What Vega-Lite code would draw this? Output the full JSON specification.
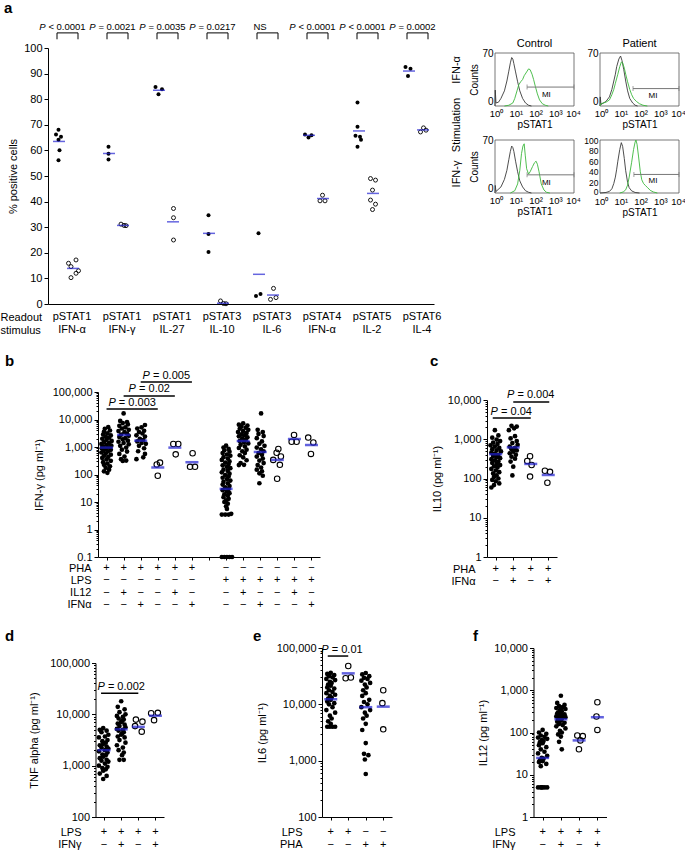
{
"$schema":"https://vega.github.io/schema/vega-lite/v6.json",
"background":"white",
"width":685,"height":852,"autosize":"none",
"padding":0,
"config":{
 "view":{"stroke":null},
 "font":"Liberation Sans",
 "axis":{"domainColor":"#000","tickColor":"#000","labelColor":"#000","titleColor":"#000","labelFont":"Liberation Sans","titleFont":"Liberation Sans","titleFontWeight":"normal","labelFontSize":11,"titleFontSize":11,"grid":false,"domainWidth":1,"tickWidth":1,"labelFlush":false},
 "text":{"font":"Liberation Sans","fontSize":11,"color":"#000"}
},
"resolve":{"scale":{"x":"independent","y":"independent"},"axis":{"x":"independent","y":"independent"}},
"datasets":{
"aPts":[
{"s":"c","x":-0.15,"v":68.1},{"s":"c","x":-0.2,"v":66.2},{"s":"c","x":-0.1,"v":65.3},{"s":"c","x":-0.15,"v":64.2},{"s":"c","x":-0.13,"v":60.1},{"s":"c","x":-0.15,"v":56.2},
{"s":"p","x":0.2,"v":17.2},{"s":"p","x":0.05,"v":15.9},{"s":"p","x":0.1,"v":14.6},{"s":"p","x":0.25,"v":13.0},{"s":"p","x":0.2,"v":12.0},{"s":"p","x":0.1,"v":10.3},
{"s":"c","x":0.85,"v":61.4},{"s":"c","x":0.85,"v":58.7},{"s":"c","x":0.85,"v":56.4},
{"s":"p","x":1.1,"v":31.2},{"s":"p","x":1.16,"v":30.7},{"s":"p","x":1.2,"v":30.6},
{"s":"c","x":1.79,"v":84.8},{"s":"c","x":1.92,"v":83.9},{"s":"c","x":1.85,"v":81.9},
{"s":"p","x":2.15,"v":37.3},{"s":"p","x":2.15,"v":33.7},{"s":"p","x":2.15,"v":25.0},
{"s":"c","x":2.85,"v":34.7},{"s":"c","x":2.85,"v":27.3},{"s":"c","x":2.85,"v":20.3},
{"s":"p","x":3.09,"v":1.2},{"s":"p","x":3.15,"v":0.2},{"s":"p","x":3.2,"v":0.1},
{"s":"c","x":3.85,"v":27.6},{"s":"c","x":3.8,"v":3.1},{"s":"c","x":3.89,"v":3.9},
{"s":"p","x":4.15,"v":6.1},{"s":"p","x":4.09,"v":1.8},{"s":"p","x":4.2,"v":2.5},
{"s":"c","x":4.78,"v":66.2},{"s":"c","x":4.91,"v":65.9},{"s":"c","x":4.85,"v":65.0},
{"s":"p","x":5.13,"v":42.5},{"s":"p","x":5.08,"v":40.3},{"s":"p","x":5.18,"v":40.3},
{"s":"c","x":5.83,"v":78.7},{"s":"c","x":5.83,"v":69.2},{"s":"c","x":5.79,"v":65.7},{"s":"c","x":5.88,"v":65.3},{"s":"c","x":5.9,"v":64.2},{"s":"c","x":5.83,"v":61.4},
{"s":"p","x":6.09,"v":49.0},{"s":"p","x":6.19,"v":48.4},{"s":"p","x":6.13,"v":44.5},{"s":"p","x":6.09,"v":40.6},{"s":"p","x":6.19,"v":39.0},{"s":"p","x":6.13,"v":36.9},
{"s":"c","x":6.79,"v":92.6},{"s":"c","x":6.89,"v":91.9},{"s":"c","x":6.84,"v":89.1},
{"s":"p","x":7.09,"v":67.2},{"s":"p","x":7.15,"v":68.8},{"s":"p","x":7.2,"v":67.9}
],
"aMean":[
{"g":0,"s":"c","m":63.5},{"g":0,"s":"p","m":13.9},{"g":1,"s":"c","m":58.8},{"g":1,"s":"p","m":30.7},
{"g":2,"s":"c","m":83.5},{"g":2,"s":"p","m":32.1},{"g":3,"s":"c","m":27.6},{"g":3,"s":"p","m":0.3},
{"g":4,"s":"c","m":11.6},{"g":4,"s":"p","m":3.5},{"g":5,"s":"c","m":65.9},{"g":5,"s":"p","m":41.2},
{"g":6,"s":"c","m":67.6},{"g":6,"s":"p","m":43.2},{"g":7,"s":"c","m":91.0},{"g":7,"s":"p","m":68.0}
],
"aGrp":[
{"g":0,"Readout":"pSTAT1","stimulus":"IFN-α","p":"< 0.0001"},
{"g":1,"Readout":"pSTAT1","stimulus":"IFN-γ","p":"= 0.0021"},
{"g":2,"Readout":"pSTAT1","stimulus":"IL-27","p":"= 0.0035"},
{"g":3,"Readout":"pSTAT3","stimulus":"IL-10","p":"= 0.0217"},
{"g":4,"Readout":"pSTAT3","stimulus":"IL-6","p":"NS"},
{"g":5,"Readout":"pSTAT4","stimulus":"IFN-α","p":"< 0.0001"},
{"g":6,"Readout":"pSTAT5","stimulus":"IL-2","p":"< 0.0001"},
{"g":7,"Readout":"pSTAT6","stimulus":"IL-4","p":"= 0.0002"}
],
"flow":[
{"p":"TL","s":"gray","x":1,"y":0},{"p":"TL","s":"gray","x":1.03,"y":21},{"p":"TL","s":"gray","x":1.12,"y":4},{"p":"TL","s":"gray","x":1.5,"y":5},{"p":"TL","s":"gray","x":2,"y":10},{"p":"TL","s":"gray","x":3,"y":20},{"p":"TL","s":"gray","x":4,"y":33},{"p":"TL","s":"gray","x":5,"y":46},{"p":"TL","s":"gray","x":6,"y":57},{"p":"TL","s":"gray","x":7,"y":64},{"p":"TL","s":"gray","x":8,"y":62},{"p":"TL","s":"gray","x":9,"y":56},{"p":"TL","s":"gray","x":11,"y":45},{"p":"TL","s":"gray","x":14,"y":32},{"p":"TL","s":"gray","x":18,"y":20},{"p":"TL","s":"gray","x":25,"y":10},{"p":"TL","s":"gray","x":35,"y":4},{"p":"TL","s":"gray","x":50,"y":1},{"p":"TL","s":"gray","x":70,"y":0},
{"p":"TL","s":"green","x":3,"y":0},{"p":"TL","s":"green","x":5,"y":1},{"p":"TL","s":"green","x":8,"y":4},{"p":"TL","s":"green","x":10,"y":10},{"p":"TL","s":"green","x":13,"y":20},{"p":"TL","s":"green","x":16,"y":28},{"p":"TL","s":"green","x":20,"y":32},{"p":"TL","s":"green","x":25,"y":35},{"p":"TL","s":"green","x":30,"y":40},{"p":"TL","s":"green","x":40,"y":45},{"p":"TL","s":"green","x":50,"y":49},{"p":"TL","s":"green","x":60,"y":48},{"p":"TL","s":"green","x":75,"y":42},{"p":"TL","s":"green","x":90,"y":35},{"p":"TL","s":"green","x":110,"y":26},{"p":"TL","s":"green","x":140,"y":16},{"p":"TL","s":"green","x":180,"y":8},{"p":"TL","s":"green","x":250,"y":3},{"p":"TL","s":"green","x":350,"y":1},{"p":"TL","s":"green","x":500,"y":0},
{"p":"TR","s":"gray","x":1,"y":0},{"p":"TR","s":"gray","x":1.03,"y":12},{"p":"TR","s":"gray","x":1.12,"y":2},{"p":"TR","s":"gray","x":2,"y":6},{"p":"TR","s":"gray","x":3,"y":12},{"p":"TR","s":"gray","x":4,"y":22},{"p":"TR","s":"gray","x":5,"y":33},{"p":"TR","s":"gray","x":6,"y":42},{"p":"TR","s":"gray","x":7,"y":52},{"p":"TR","s":"gray","x":9,"y":62},{"p":"TR","s":"gray","x":11,"y":66},{"p":"TR","s":"gray","x":13,"y":60},{"p":"TR","s":"gray","x":16,"y":48},{"p":"TR","s":"gray","x":20,"y":33},{"p":"TR","s":"gray","x":25,"y":20},{"p":"TR","s":"gray","x":32,"y":10},{"p":"TR","s":"gray","x":45,"y":4},{"p":"TR","s":"gray","x":60,"y":1},{"p":"TR","s":"gray","x":80,"y":0},
{"p":"TR","s":"green","x":1,"y":0},{"p":"TR","s":"green","x":1.1,"y":3},{"p":"TR","s":"green","x":2,"y":5},{"p":"TR","s":"green","x":3,"y":8},{"p":"TR","s":"green","x":4,"y":15},{"p":"TR","s":"green","x":5,"y":22},{"p":"TR","s":"green","x":6,"y":30},{"p":"TR","s":"green","x":8,"y":42},{"p":"TR","s":"green","x":10,"y":52},{"p":"TR","s":"green","x":12,"y":58},{"p":"TR","s":"green","x":14,"y":57},{"p":"TR","s":"green","x":17,"y":50},{"p":"TR","s":"green","x":20,"y":42},{"p":"TR","s":"green","x":25,"y":32},{"p":"TR","s":"green","x":32,"y":22},{"p":"TR","s":"green","x":40,"y":15},{"p":"TR","s":"green","x":50,"y":10},{"p":"TR","s":"green","x":70,"y":6},{"p":"TR","s":"green","x":100,"y":3},{"p":"TR","s":"green","x":150,"y":1},{"p":"TR","s":"green","x":250,"y":0},
{"p":"BL","s":"gray","x":1,"y":0},{"p":"BL","s":"gray","x":1.03,"y":10},{"p":"BL","s":"gray","x":1.12,"y":2},{"p":"BL","s":"gray","x":2,"y":8},{"p":"BL","s":"gray","x":3,"y":18},{"p":"BL","s":"gray","x":4,"y":30},{"p":"BL","s":"gray","x":5,"y":44},{"p":"BL","s":"gray","x":6,"y":55},{"p":"BL","s":"gray","x":7,"y":62},{"p":"BL","s":"gray","x":8,"y":60},{"p":"BL","s":"gray","x":9,"y":55},{"p":"BL","s":"gray","x":11,"y":42},{"p":"BL","s":"gray","x":14,"y":28},{"p":"BL","s":"gray","x":18,"y":16},{"p":"BL","s":"gray","x":25,"y":8},{"p":"BL","s":"gray","x":35,"y":3},{"p":"BL","s":"gray","x":50,"y":1},{"p":"BL","s":"gray","x":70,"y":0},
{"p":"BL","s":"green","x":6,"y":0},{"p":"BL","s":"green","x":10,"y":3},{"p":"BL","s":"green","x":14,"y":12},{"p":"BL","s":"green","x":18,"y":30},{"p":"BL","s":"green","x":22,"y":52},{"p":"BL","s":"green","x":26,"y":62},{"p":"BL","s":"green","x":30,"y":65},{"p":"BL","s":"green","x":34,"y":50},{"p":"BL","s":"green","x":40,"y":32},{"p":"BL","s":"green","x":50,"y":25},{"p":"BL","s":"green","x":60,"y":28},{"p":"BL","s":"green","x":80,"y":35},{"p":"BL","s":"green","x":100,"y":40},{"p":"BL","s":"green","x":120,"y":42},{"p":"BL","s":"green","x":140,"y":38},{"p":"BL","s":"green","x":170,"y":28},{"p":"BL","s":"green","x":220,"y":12},{"p":"BL","s":"green","x":300,"y":4},{"p":"BL","s":"green","x":400,"y":1},{"p":"BL","s":"green","x":600,"y":0},
{"p":"BR","s":"gray","x":1,"y":0},{"p":"BR","s":"gray","x":2,"y":1},{"p":"BR","s":"gray","x":3,"y":3},{"p":"BR","s":"gray","x":4,"y":8},{"p":"BR","s":"gray","x":5,"y":18},{"p":"BR","s":"gray","x":6,"y":30},{"p":"BR","s":"gray","x":7,"y":45},{"p":"BR","s":"gray","x":8,"y":60},{"p":"BR","s":"gray","x":10,"y":82},{"p":"BR","s":"gray","x":12,"y":95},{"p":"BR","s":"gray","x":14,"y":88},{"p":"BR","s":"gray","x":17,"y":65},{"p":"BR","s":"gray","x":20,"y":42},{"p":"BR","s":"gray","x":25,"y":20},{"p":"BR","s":"gray","x":30,"y":10},{"p":"BR","s":"gray","x":40,"y":4},{"p":"BR","s":"gray","x":60,"y":1},{"p":"BR","s":"gray","x":100,"y":0},
{"p":"BR","s":"green","x":10,"y":0},{"p":"BR","s":"green","x":15,"y":2},{"p":"BR","s":"green","x":20,"y":6},{"p":"BR","s":"green","x":25,"y":15},{"p":"BR","s":"green","x":30,"y":30},{"p":"BR","s":"green","x":40,"y":58},{"p":"BR","s":"green","x":50,"y":82},{"p":"BR","s":"green","x":60,"y":96},{"p":"BR","s":"green","x":66,"y":100},{"p":"BR","s":"green","x":75,"y":92},{"p":"BR","s":"green","x":90,"y":68},{"p":"BR","s":"green","x":110,"y":40},{"p":"BR","s":"green","x":130,"y":25},{"p":"BR","s":"green","x":160,"y":18},{"p":"BR","s":"green","x":200,"y":14},{"p":"BR","s":"green","x":260,"y":10},{"p":"BR","s":"green","x":350,"y":5},{"p":"BR","s":"green","x":500,"y":2},{"p":"BR","s":"green","x":800,"y":0}
],
"gate":[{"p":"TL","lo":42,"hi":10000},{"p":"TR","lo":47,"hi":10000},{"p":"BL","lo":42,"hi":10000},{"p":"BR","lo":52,"hi":10000}],
"bPts":[
{"s":"c","x":1.1,"v":5250},{"s":"c","x":0.9,"v":4570},{"s":"c","x":1.2,"v":3980},{"s":"c","x":0.85,"v":3550},{"s":"c","x":1.05,"v":3160},{"s":"c","x":0.8,"v":2820},{"s":"c","x":1.25,"v":2630},{"s":"c","x":0.95,"v":2400},{"s":"c","x":1.15,"v":2190},{"s":"c","x":0.75,"v":2000},{"s":"c","x":1.0,"v":1820},{"s":"c","x":1.3,"v":1660},{"s":"c","x":0.85,"v":1510},{"s":"c","x":1.15,"v":1410},{"s":"c","x":0.7,"v":1290},{"s":"c","x":1.0,"v":1200},{"s":"c","x":1.28,"v":1120},{"s":"c","x":0.8,"v":1050},{"s":"c","x":1.1,"v":980},{"s":"c","x":0.72,"v":910},{"s":"c","x":0.95,"v":850},{"s":"c","x":1.25,"v":790},{"s":"c","x":0.82,"v":740},{"s":"c","x":1.08,"v":690},{"s":"c","x":0.7,"v":630},{"s":"c","x":0.95,"v":575},{"s":"c","x":1.25,"v":525},{"s":"c","x":0.85,"v":480},{"s":"c","x":1.1,"v":435},{"s":"c","x":0.75,"v":400},{"s":"c","x":1.0,"v":355},{"s":"c","x":1.25,"v":315},{"s":"c","x":0.8,"v":280},{"s":"c","x":1.05,"v":250},{"s":"c","x":0.85,"v":225},{"s":"c","x":1.2,"v":200},{"s":"c","x":0.95,"v":175},{"s":"c","x":1.15,"v":150},{"s":"c","x":0.85,"v":130},{"s":"c","x":1.05,"v":115},
{"s":"c","x":2.0,"v":16600},{"s":"c","x":1.8,"v":8900},{"s":"c","x":2.2,"v":8100},{"s":"c","x":1.95,"v":7400},{"s":"c","x":2.25,"v":6600},{"s":"c","x":1.75,"v":5900},{"s":"c","x":2.1,"v":5200},{"s":"c","x":1.9,"v":4700},{"s":"c","x":2.3,"v":4200},{"s":"c","x":1.7,"v":3800},{"s":"c","x":2.05,"v":3450},{"s":"c","x":2.2,"v":3100},{"s":"c","x":1.85,"v":2800},{"s":"c","x":2.3,"v":2550},{"s":"c","x":1.75,"v":2300},{"s":"c","x":2.1,"v":2100},{"s":"c","x":1.95,"v":1900},{"s":"c","x":2.25,"v":1700},{"s":"c","x":1.7,"v":1550},{"s":"c","x":2.0,"v":1400},{"s":"c","x":2.3,"v":1250},{"s":"c","x":1.8,"v":1100},{"s":"c","x":2.15,"v":950},{"s":"c","x":1.9,"v":800},{"s":"c","x":2.2,"v":680},{"s":"c","x":1.75,"v":560},{"s":"c","x":2.05,"v":450},{"s":"c","x":1.85,"v":360},{"s":"c","x":2.15,"v":320},{"s":"c","x":1.95,"v":310},
{"s":"c","x":3.25,"v":6300},{"s":"c","x":3.05,"v":5200},{"s":"c","x":2.8,"v":4700},{"s":"c","x":3.2,"v":3900},{"s":"c","x":2.9,"v":3500},{"s":"c","x":3.1,"v":3100},{"s":"c","x":2.75,"v":2650},{"s":"c","x":3.25,"v":2400},{"s":"c","x":2.95,"v":2000},{"s":"c","x":3.15,"v":1800},{"s":"c","x":2.8,"v":1600},{"s":"c","x":3.05,"v":1400},{"s":"c","x":3.3,"v":1300},{"s":"c","x":2.9,"v":1100},{"s":"c","x":3.2,"v":900},{"s":"c","x":2.85,"v":700},{"s":"c","x":3.25,"v":560},{"s":"c","x":3.15,"v":420},{"s":"c","x":2.75,"v":360},
{"s":"p","x":4.13,"v":270},{"s":"p","x":3.94,"v":230},{"s":"p","x":4.0,"v":90},
{"s":"p","x":4.91,"v":1290},{"s":"p","x":5.2,"v":1290},{"s":"p","x":5.05,"v":540},
{"s":"p","x":6.04,"v":590},{"s":"p","x":5.89,"v":190},{"s":"p","x":6.18,"v":190},
{"s":"c","x":8.0,"v":1120},{"s":"c","x":7.85,"v":955},{"s":"c","x":8.15,"v":850},{"s":"c","x":7.9,"v":760},{"s":"c","x":8.2,"v":675},{"s":"c","x":7.8,"v":600},{"s":"c","x":8.05,"v":535},{"s":"c","x":8.25,"v":480},{"s":"c","x":7.85,"v":425},{"s":"c","x":8.1,"v":380},{"s":"c","x":7.75,"v":340},{"s":"c","x":8.2,"v":300},{"s":"c","x":7.95,"v":270},{"s":"c","x":8.15,"v":240},{"s":"c","x":7.8,"v":215},{"s":"c","x":8.05,"v":190},{"s":"c","x":8.25,"v":170},{"s":"c","x":7.85,"v":150},{"s":"c","x":8.1,"v":135},{"s":"c","x":7.75,"v":120},{"s":"c","x":8.2,"v":107},{"s":"c","x":7.95,"v":95},{"s":"c","x":8.15,"v":85},{"s":"c","x":7.8,"v":76},{"s":"c","x":8.05,"v":68},{"s":"c","x":8.25,"v":60},{"s":"c","x":7.85,"v":54},{"s":"c","x":8.1,"v":48},{"s":"c","x":7.8,"v":43},{"s":"c","x":8.2,"v":38},{"s":"c","x":7.95,"v":34},{"s":"c","x":8.15,"v":30},{"s":"c","x":7.8,"v":27},{"s":"c","x":8.05,"v":24},{"s":"c","x":8.2,"v":21},{"s":"c","x":7.9,"v":19},{"s":"c","x":8.1,"v":17},{"s":"c","x":7.85,"v":15},{"s":"c","x":8.15,"v":13},{"s":"c","x":8.0,"v":11.5},{"s":"c","x":7.9,"v":10},{"s":"c","x":8.1,"v":8.7},{"s":"c","x":8.0,"v":7},{"s":"c","x":8.05,"v":5.6},{"s":"c","x":7.75,"v":3.5},{"s":"c","x":7.95,"v":3.5},{"s":"c","x":8.15,"v":3.5},{"s":"c","x":8.3,"v":3.7},{"s":"c","x":7.75,"v":0.1},{"s":"c","x":7.9,"v":0.1},{"s":"c","x":8.05,"v":0.1},{"s":"c","x":8.2,"v":0.1},{"s":"c","x":8.35,"v":0.1},
{"s":"c","x":9.0,"v":7200},{"s":"c","x":8.75,"v":6500},{"s":"c","x":9.25,"v":6000},{"s":"c","x":8.9,"v":5500},{"s":"c","x":9.15,"v":5000},{"s":"c","x":8.8,"v":4600},{"s":"c","x":9.3,"v":4200},{"s":"c","x":9.0,"v":3800},{"s":"c","x":8.7,"v":3500},{"s":"c","x":9.2,"v":3200},{"s":"c","x":8.9,"v":2900},{"s":"c","x":9.1,"v":2700},{"s":"c","x":8.75,"v":2450},{"s":"c","x":9.25,"v":2250},{"s":"c","x":8.95,"v":2050},{"s":"c","x":9.15,"v":1850},{"s":"c","x":8.8,"v":1650},{"s":"c","x":9.05,"v":1500},{"s":"c","x":9.3,"v":1350},{"s":"c","x":8.85,"v":1200},{"s":"c","x":9.1,"v":1050},{"s":"c","x":8.75,"v":920},{"s":"c","x":9.2,"v":800},{"s":"c","x":8.95,"v":700},{"s":"c","x":9.1,"v":600},{"s":"c","x":8.8,"v":500},{"s":"c","x":9.0,"v":420},{"s":"c","x":9.2,"v":330},{"s":"c","x":8.85,"v":260},{"s":"c","x":9.05,"v":225},{"s":"c","x":8.75,"v":220},
{"s":"c","x":10.05,"v":16600},{"s":"c","x":9.85,"v":4200},{"s":"c","x":10.15,"v":3500},{"s":"c","x":9.9,"v":3000},{"s":"c","x":10.2,"v":2500},{"s":"c","x":9.8,"v":2100},{"s":"c","x":10.1,"v":1600},{"s":"c","x":9.95,"v":1300},{"s":"c","x":10.25,"v":1100},{"s":"c","x":9.8,"v":950},{"s":"c","x":10.05,"v":820},{"s":"c","x":10.2,"v":700},{"s":"c","x":9.9,"v":600},{"s":"c","x":10.1,"v":520},{"s":"c","x":9.8,"v":450},{"s":"c","x":10.15,"v":380},{"s":"c","x":9.95,"v":320},{"s":"c","x":10.2,"v":260},{"s":"c","x":9.85,"v":220},{"s":"c","x":10.05,"v":180},{"s":"c","x":9.8,"v":150},{"s":"c","x":10.1,"v":130},{"s":"c","x":9.95,"v":110},{"s":"c","x":10.15,"v":90},{"s":"c","x":9.95,"v":48},
{"s":"p","x":11.06,"v":850},{"s":"p","x":10.96,"v":620},{"s":"p","x":11.21,"v":450},{"s":"p","x":10.76,"v":340},{"s":"p","x":11.15,"v":225},{"s":"p","x":10.99,"v":70},
{"s":"p","x":11.98,"v":2750},{"s":"p","x":11.84,"v":1550},{"s":"p","x":12.13,"v":1550},
{"s":"p","x":12.81,"v":2200},{"s":"p","x":13.11,"v":1450},{"s":"p","x":12.97,"v":560}
],
"bMean":[{"g":1,"m":950},{"g":2,"m":2750},{"g":3,"m":1700},{"g":4,"m":180},{"g":5,"m":950},{"g":6,"m":280},{"g":8,"m":30},{"g":9,"m":1650},{"g":10,"m":660},{"g":11,"m":340},{"g":12,"m":1950},{"g":13,"m":1180}],
"bTab":[
{"g":1,"PHA":"+","LPS":"−","IL12":"−","IFNα":"−"},{"g":2,"PHA":"+","LPS":"−","IL12":"+","IFNα":"−"},{"g":3,"PHA":"+","LPS":"−","IL12":"−","IFNα":"+"},{"g":4,"PHA":"+","LPS":"−","IL12":"−","IFNα":"−"},{"g":5,"PHA":"+","LPS":"−","IL12":"+","IFNα":"−"},{"g":6,"PHA":"+","LPS":"−","IL12":"−","IFNα":"+"},
{"g":8,"PHA":"−","LPS":"+","IL12":"−","IFNα":"−"},{"g":9,"PHA":"−","LPS":"+","IL12":"+","IFNα":"−"},{"g":10,"PHA":"−","LPS":"+","IL12":"−","IFNα":"+"},{"g":11,"PHA":"−","LPS":"+","IL12":"−","IFNα":"−"},{"g":12,"PHA":"−","LPS":"+","IL12":"+","IFNα":"−"},{"g":13,"PHA":"−","LPS":"+","IL12":"−","IFNα":"+"}
],
"cPts":[
{"s":"c","x":0.95,"v":1700},{"s":"c","x":1.15,"v":1250},{"s":"c","x":0.8,"v":1100},{"s":"c","x":1.05,"v":980},{"s":"c","x":1.25,"v":900},{"s":"c","x":0.85,"v":820},{"s":"c","x":1.1,"v":760},{"s":"c","x":0.7,"v":700},{"s":"c","x":0.95,"v":650},{"s":"c","x":1.2,"v":600},{"s":"c","x":0.8,"v":560},{"s":"c","x":1.05,"v":520},{"s":"c","x":1.3,"v":490},{"s":"c","x":0.75,"v":455},{"s":"c","x":0.95,"v":430},{"s":"c","x":1.15,"v":400},{"s":"c","x":0.85,"v":375},{"s":"c","x":1.05,"v":350},{"s":"c","x":1.25,"v":330},{"s":"c","x":0.75,"v":310},{"s":"c","x":0.95,"v":290},{"s":"c","x":1.15,"v":270},{"s":"c","x":0.8,"v":250},{"s":"c","x":1.05,"v":235},{"s":"c","x":1.25,"v":220},{"s":"c","x":0.9,"v":205},{"s":"c","x":1.1,"v":190},{"s":"c","x":0.75,"v":175},{"s":"c","x":1.0,"v":160},{"s":"c","x":1.2,"v":145},{"s":"c","x":0.85,"v":135},{"s":"c","x":1.05,"v":120},{"s":"c","x":0.9,"v":110},{"s":"c","x":1.15,"v":100},{"s":"c","x":0.8,"v":92},{"s":"c","x":1.0,"v":85},{"s":"c","x":1.2,"v":75},{"s":"c","x":0.9,"v":68},{"s":"c","x":0.75,"v":59},
{"s":"c","x":1.9,"v":2200},{"s":"c","x":2.2,"v":2100},{"s":"c","x":2.05,"v":1900},{"s":"c","x":1.75,"v":1700},{"s":"c","x":2.1,"v":1200},{"s":"c","x":1.85,"v":1050},{"s":"c","x":2.2,"v":900},{"s":"c","x":1.95,"v":800},{"s":"c","x":2.25,"v":720},{"s":"c","x":1.8,"v":650},{"s":"c","x":2.1,"v":600},{"s":"c","x":1.9,"v":560},{"s":"c","x":2.2,"v":520},{"s":"c","x":2.0,"v":480},{"s":"c","x":1.8,"v":440},{"s":"c","x":2.15,"v":400},{"s":"c","x":1.9,"v":360},{"s":"c","x":2.1,"v":320},{"s":"c","x":1.85,"v":270},{"s":"c","x":2.0,"v":200},{"s":"c","x":1.95,"v":120},
{"s":"p","x":2.96,"v":370},{"s":"p","x":2.8,"v":280},{"s":"p","x":3.05,"v":220},{"s":"p","x":2.96,"v":112},
{"s":"p","x":3.81,"v":158},{"s":"p","x":4.1,"v":148},{"s":"p","x":3.95,"v":78}
],
"cMean":[{"g":1,"m":415},{"g":2,"m":620},{"g":3,"m":235},{"g":4,"m":123}],
"cTab":[{"g":1,"PHA":"+","IFNα":"−"},{"g":2,"PHA":"+","IFNα":"+"},{"g":3,"PHA":"+","IFNα":"−"},{"g":4,"PHA":"+","IFNα":"+"}],
"dPts":[
{"s":"c","x":0.95,"v":5400},{"s":"c","x":0.75,"v":5000},{"s":"c","x":1.15,"v":4800},{"s":"c","x":0.85,"v":4500},{"s":"c","x":1.25,"v":4000},{"s":"c","x":1.05,"v":3700},{"s":"c","x":0.7,"v":3550},{"s":"c","x":1.2,"v":3150},{"s":"c","x":0.9,"v":3000},{"s":"c","x":1.1,"v":2800},{"s":"c","x":0.95,"v":2650},{"s":"c","x":0.75,"v":2500},{"s":"c","x":1.15,"v":2350},{"s":"c","x":0.85,"v":2250},{"s":"c","x":1.25,"v":2150},{"s":"c","x":1.05,"v":2000},{"s":"c","x":0.7,"v":1900},{"s":"c","x":1.2,"v":1800},{"s":"c","x":0.9,"v":1650},{"s":"c","x":1.1,"v":1600},{"s":"c","x":0.95,"v":1500},{"s":"c","x":0.75,"v":1400},{"s":"c","x":1.15,"v":1300},{"s":"c","x":0.85,"v":1250},{"s":"c","x":1.25,"v":1200},{"s":"c","x":1.05,"v":1100},{"s":"c","x":0.7,"v":1000},{"s":"c","x":1.2,"v":950},{"s":"c","x":0.9,"v":900},{"s":"c","x":1.1,"v":850},{"s":"c","x":0.95,"v":800},{"s":"c","x":0.75,"v":700},{"s":"c","x":1.15,"v":630},{"s":"c","x":0.95,"v":550},
{"s":"c","x":2.0,"v":18000},{"s":"c","x":1.8,"v":14000},{"s":"c","x":2.2,"v":12500},{"s":"c","x":1.9,"v":11000},{"s":"c","x":2.25,"v":10000},{"s":"c","x":1.75,"v":9300},{"s":"c","x":2.1,"v":8900},{"s":"c","x":1.85,"v":8300},{"s":"c","x":2.15,"v":7900},{"s":"c","x":2.05,"v":7400},{"s":"c","x":2.0,"v":7100},{"s":"c","x":1.8,"v":6600},{"s":"c","x":2.2,"v":6300},{"s":"c","x":1.9,"v":5900},{"s":"c","x":2.25,"v":5600},{"s":"c","x":1.75,"v":5200},{"s":"c","x":2.1,"v":5000},{"s":"c","x":1.85,"v":4800},{"s":"c","x":2.15,"v":4500},{"s":"c","x":2.05,"v":4200},{"s":"c","x":2.0,"v":4000},{"s":"c","x":1.8,"v":3700},{"s":"c","x":2.2,"v":3550},{"s":"c","x":1.9,"v":3150},{"s":"c","x":2.25,"v":2800},{"s":"c","x":1.75,"v":2500},{"s":"c","x":2.1,"v":2250},{"s":"c","x":1.85,"v":2000},{"s":"c","x":2.15,"v":1800},{"s":"c","x":2.05,"v":1600},{"s":"c","x":1.9,"v":1300},{"s":"c","x":2.15,"v":1300},
{"s":"p","x":2.86,"v":7900},{"s":"p","x":3.24,"v":7200},{"s":"p","x":2.81,"v":5900},{"s":"p","x":3.2,"v":4600},
{"s":"p","x":3.75,"v":10500},{"s":"p","x":4.14,"v":10700},{"s":"p","x":3.92,"v":7700}
],
"dMean":[{"g":1,"m":2000},{"g":2,"m":5100},{"g":3,"m":5700},{"g":4,"m":9400}],
"dTab":[{"g":1,"LPS":"+","IFNγ":"−"},{"g":2,"LPS":"+","IFNγ":"+"},{"g":3,"LPS":"+","IFNγ":"−"},{"g":4,"LPS":"+","IFNγ":"+"}],
"ePts":[
{"s":"c","x":1.0,"v":36300},{"s":"c","x":0.8,"v":34700},{"s":"c","x":1.2,"v":33100},{"s":"c","x":0.9,"v":31600},{"s":"c","x":1.1,"v":30200},{"s":"c","x":0.75,"v":28200},{"s":"c","x":1.25,"v":26900},{"s":"c","x":0.95,"v":25100},{"s":"c","x":1.05,"v":24000},{"s":"c","x":0.85,"v":22400},{"s":"c","x":1.0,"v":21400},{"s":"c","x":0.8,"v":20000},{"s":"c","x":1.2,"v":19100},{"s":"c","x":0.9,"v":17800},{"s":"c","x":1.1,"v":16600},{"s":"c","x":0.75,"v":15800},{"s":"c","x":1.25,"v":14800},{"s":"c","x":0.95,"v":14100},{"s":"c","x":1.05,"v":13200},{"s":"c","x":0.85,"v":12600},{"s":"c","x":1.0,"v":12000},{"s":"c","x":0.8,"v":11200},{"s":"c","x":1.2,"v":10500},{"s":"c","x":0.9,"v":10000},{"s":"c","x":1.1,"v":8900},{"s":"c","x":0.75,"v":7900},{"s":"c","x":1.25,"v":7100},{"s":"c","x":0.95,"v":6300},{"s":"c","x":1.05,"v":5600},{"s":"c","x":0.85,"v":5000},{"s":"c","x":1.0,"v":4500},{"s":"c","x":0.8,"v":4000},{"s":"c","x":0.95,"v":4000},{"s":"c","x":1.1,"v":4000},{"s":"c","x":1.25,"v":4000},
{"s":"p","x":2.0,"v":48000},{"s":"p","x":1.85,"v":29000},{"s":"p","x":2.15,"v":30000},
{"s":"c","x":3.0,"v":36000},{"s":"c","x":2.8,"v":34000},{"s":"c","x":3.2,"v":31600},{"s":"c","x":2.9,"v":29500},{"s":"c","x":3.1,"v":28200},{"s":"c","x":2.75,"v":26300},{"s":"c","x":3.25,"v":24000},{"s":"c","x":2.95,"v":22400},{"s":"c","x":3.05,"v":20000},{"s":"c","x":2.85,"v":17800},{"s":"c","x":3.0,"v":15800},{"s":"c","x":2.8,"v":14100},{"s":"c","x":3.2,"v":12000},{"s":"c","x":2.9,"v":11000},{"s":"c","x":3.1,"v":10000},{"s":"c","x":2.75,"v":8900},{"s":"c","x":3.25,"v":7900},{"s":"c","x":2.95,"v":7100},{"s":"c","x":3.05,"v":6300},{"s":"c","x":2.85,"v":5600},{"s":"c","x":3.0,"v":4500},{"s":"c","x":2.8,"v":3500},{"s":"c","x":3.0,"v":2050},{"s":"c","x":2.9,"v":1320},{"s":"c","x":3.15,"v":1250},{"s":"c","x":2.95,"v":1050},{"s":"c","x":3.0,"v":580},
{"s":"p","x":4.0,"v":17800},{"s":"p","x":3.95,"v":10500},{"s":"p","x":4.0,"v":3600}
],
"eMean":[{"g":1,"m":12300},{"g":2,"m":35500},{"g":3,"m":8900},{"g":4,"m":9100}],
"eTab":[{"g":1,"LPS":"+","PHA":"−"},{"g":2,"LPS":"+","PHA":"−"},{"g":3,"LPS":"−","PHA":"+"},{"g":4,"LPS":"−","PHA":"+"}],
"fPts":[
{"s":"c","x":1.0,"v":115},{"s":"c","x":0.8,"v":100},{"s":"c","x":1.2,"v":93},{"s":"c","x":0.9,"v":85},{"s":"c","x":1.1,"v":79},{"s":"c","x":0.75,"v":76},{"s":"c","x":1.25,"v":71},{"s":"c","x":0.95,"v":66},{"s":"c","x":1.05,"v":63},{"s":"c","x":0.85,"v":59},{"s":"c","x":1.0,"v":56},{"s":"c","x":0.8,"v":50},{"s":"c","x":1.2,"v":45},{"s":"c","x":0.9,"v":40},{"s":"c","x":1.1,"v":35},{"s":"c","x":0.75,"v":32},{"s":"c","x":1.25,"v":28},{"s":"c","x":0.95,"v":25},{"s":"c","x":1.05,"v":24},{"s":"c","x":0.85,"v":22},{"s":"c","x":1.0,"v":21},{"s":"c","x":0.8,"v":20},{"s":"c","x":1.2,"v":18},{"s":"c","x":0.9,"v":16},
{"s":"c","x":0.75,"v":5},{"s":"c","x":0.88,"v":5},{"s":"c","x":1.0,"v":5},{"s":"c","x":1.12,"v":5},{"s":"c","x":1.25,"v":5},{"s":"c","x":0.95,"v":5},
{"s":"c","x":2.0,"v":740},{"s":"c","x":1.8,"v":500},{"s":"c","x":2.2,"v":450},{"s":"c","x":1.9,"v":420},{"s":"c","x":2.1,"v":400},{"s":"c","x":1.75,"v":380},{"s":"c","x":2.25,"v":360},{"s":"c","x":1.95,"v":340},{"s":"c","x":2.05,"v":320},{"s":"c","x":1.85,"v":300},{"s":"c","x":2.0,"v":290},{"s":"c","x":1.8,"v":280},{"s":"c","x":2.2,"v":270},{"s":"c","x":1.9,"v":260},{"s":"c","x":2.1,"v":250},{"s":"c","x":1.75,"v":240},{"s":"c","x":2.25,"v":230},{"s":"c","x":1.95,"v":220},{"s":"c","x":2.05,"v":210},{"s":"c","x":1.85,"v":200},{"s":"c","x":2.0,"v":190},{"s":"c","x":1.8,"v":180},{"s":"c","x":2.2,"v":170},{"s":"c","x":1.9,"v":160},{"s":"c","x":2.1,"v":150},{"s":"c","x":1.75,"v":140},{"s":"c","x":2.25,"v":125},{"s":"c","x":1.95,"v":110},{"s":"c","x":2.05,"v":100},{"s":"c","x":1.85,"v":90},{"s":"c","x":2.0,"v":80},{"s":"c","x":1.9,"v":60},{"s":"c","x":2.05,"v":40},
{"s":"p","x":2.9,"v":85},{"s":"p","x":3.2,"v":82},{"s":"p","x":3.07,"v":65},{"s":"p","x":2.99,"v":40},
{"s":"p","x":4.0,"v":520},{"s":"p","x":3.95,"v":240},{"s":"p","x":4.0,"v":115}
],
"fMean":[{"g":1,"m":25},{"g":2,"m":205},{"g":3,"m":65},{"g":4,"m":230}]
},
"layer":[
{"layer":[
 {"data":{"name":"aPts"},"transform":[{"filter":"datum.s == 'c'"}],
  "mark":{"type":"circle","color":"#000","opacity":1,"size":16},
  "encoding":{
   "x":{"field":"x","type":"quantitative","scale":{"domain":[-0.36,7.36],"range":[48,434],"nice":false,"zero":false},"axis":{"orient":"bottom","offset":-548,"ticks":false,"labels":false,"title":null}},
   "y":{"field":"v","type":"quantitative","scale":{"domain":[0,100],"range":[304,48],"nice":false},"axis":{"orient":"left","offset":-48,"values":[0,10,20,30,40,50,60,70,80,90,100],"tickSize":4,"labelPadding":2,"title":"% positive cells","titlePadding":5}}}},
 {"data":{"name":"aPts"},"transform":[{"filter":"datum.s == 'p'"}],
  "mark":{"type":"point","shape":"circle","filled":false,"color":"#000","strokeWidth":0.9,"size":16,"opacity":1},
  "encoding":{"x":{"field":"x","type":"quantitative","scale":{"domain":[-0.36,7.36],"range":[48,434],"nice":false,"zero":false}},"y":{"field":"v","type":"quantitative","scale":{"domain":[0,100],"range":[304,48],"nice":false}}}},
 {"data":{"name":"aMean"},"transform":[{"filter":"datum.s == 'c'"}],
  "mark":{"type":"tick","orient":"horizontal","color":"#2323d2","size":12,"thickness":1.5,"xOffset":-7},
  "encoding":{"x":{"field":"g","type":"quantitative","scale":{"domain":[-0.36,7.36],"range":[48,434],"nice":false,"zero":false}},"y":{"field":"m","type":"quantitative","scale":{"domain":[0,100],"range":[304,48],"nice":false}}}},
 {"data":{"name":"aMean"},"transform":[{"filter":"datum.s == 'p'"}],
  "mark":{"type":"tick","orient":"horizontal","color":"#2323d2","size":12,"thickness":1.5,"xOffset":7},
  "encoding":{"x":{"field":"g","type":"quantitative","scale":{"domain":[-0.36,7.36],"range":[48,434],"nice":false,"zero":false}},"y":{"field":"m","type":"quantitative","scale":{"domain":[0,100],"range":[304,48],"nice":false}}}},
 {"data":{"name":"aGrp"},
  "mark":{"type":"rule","color":"#000","strokeWidth":1,"xOffset":-9,"x2Offset":12},
  "encoding":{"x":{"field":"g","type":"quantitative","scale":{"domain":[-0.36,7.36],"range":[48,434],"nice":false,"zero":false}},"x2":{"field":"g"},"y":{"datum":105.9,"type":"quantitative","scale":{"domain":[0,100],"range":[304,48],"nice":false}}}},
 {"data":{"name":"aGrp"},
  "mark":{"type":"rule","color":"#000","strokeWidth":1,"xOffset":-9},
  "encoding":{"x":{"field":"g","type":"quantitative","scale":{"domain":[-0.36,7.36],"range":[48,434],"nice":false,"zero":false}},"y":{"datum":103.4,"type":"quantitative","scale":{"domain":[0,100],"range":[304,48],"nice":false}},"y2":{"datum":105.9}}},
 {"data":{"name":"aGrp"},
  "mark":{"type":"rule","color":"#000","strokeWidth":1,"xOffset":12},
  "encoding":{"x":{"field":"g","type":"quantitative","scale":{"domain":[-0.36,7.36],"range":[48,434],"nice":false,"zero":false}},"y":{"datum":103.4,"type":"quantitative","scale":{"domain":[0,100],"range":[304,48],"nice":false}},"y2":{"datum":105.9}}},
 {"data":{"name":"aGrp"},"transform":[{"filter":"datum.p != 'NS'"}],
  "mark":{"type":"text","fontStyle":"italic","fontSize":9.5,"align":"right","baseline":"middle","dx":-20.3},
  "encoding":{"x":{"field":"g","type":"quantitative","scale":{"domain":[-0.36,7.36],"range":[48,434],"nice":false,"zero":false}},"y":{"datum":108.3,"type":"quantitative","scale":{"domain":[0,100],"range":[304,48],"nice":false}},"text":{"value":"P"}}},
 {"data":{"name":"aGrp"},"transform":[{"filter":"datum.p != 'NS'"}],
  "mark":{"type":"text","fontSize":9.5,"align":"left","baseline":"middle","dx":-17.6},
  "encoding":{"x":{"field":"g","type":"quantitative","scale":{"domain":[-0.36,7.36],"range":[48,434],"nice":false,"zero":false}},"y":{"datum":108.3,"type":"quantitative","scale":{"domain":[0,100],"range":[304,48],"nice":false}},"text":{"field":"p"}}},
 {"data":{"name":"aGrp"},"transform":[{"filter":"datum.p == 'NS'"}],
  "mark":{"type":"text","fontSize":9.5,"align":"center","baseline":"middle","dx":-6},
  "encoding":{"x":{"field":"g","type":"quantitative","scale":{"domain":[-0.36,7.36],"range":[48,434],"nice":false,"zero":false}},"y":{"datum":108.3,"type":"quantitative","scale":{"domain":[0,100],"range":[304,48],"nice":false}},"text":{"field":"p"}}},
 {"data":{"values":[{"t":"a"}]},
  "mark":{"type":"text","fontSize":15,"fontWeight":"bold","align":"left","baseline":"alphabetic"},
  "encoding":{"x":{"datum":-1.24,"type":"quantitative","scale":{"domain":[-0.36,7.36],"range":[48,434],"nice":false,"zero":false}},"y":{"datum":113.7,"type":"quantitative","scale":{"domain":[0,100],"range":[304,48],"nice":false}},"text":{"field":"t"}}}
]},
{"data":{"name":"aGrp"},"transform":[{"fold":["Readout","stimulus"],"as":["row","lab"]}],
 "mark":{"type":"text","fontSize":11,"dx":6},
 "encoding":{"x":{"field":"g","type":"quantitative","scale":{"domain":[-0.36,7.36],"range":[48,434],"nice":false,"zero":false},"axis":null},
  "y":{"field":"row","type":"nominal","scale":{"domain":["Readout","stimulus"],"range":[310.5,336.5],"paddingInner":0,"paddingOuter":0},"axis":{"orient":"left","offset":-48,"domain":false,"ticks":false,"labelAlign":"left","labelPadding":48,"title":null}},
  "text":{"field":"lab"}}},
{"layer":[
 {"data":{"values":[{"p":"TL"}]},"mark":{"type":"rect","fill":"#fff","fillOpacity":0,"stroke":"#555","strokeWidth":0.8},
  "encoding":{"x":{"datum":1,"type":"quantitative","scale":{"type":"log","domain":[1,10000],"range":[495,574],"nice":false},"axis":{"orient":"bottom","offset":-746,"values":[1,10,100,1000,10000],"labelExpr":"'10' + ['⁰','¹','²','³','⁴'][round(log(datum.value)/LN10)]","labelOffset":{"condition":{"test":"datum.value == 10000","value":-1},"value":1},"ticks":false,"domain":false,"labelPadding":2,"labelFontSize":9.5,"labelOverlap":false,"title":"pSTAT1","titleFontSize":10,"titlePadding":2}},"x2":{"datum":10000},
   "y":{"datum":0,"type":"quantitative","scale":{"domain":[0,70],"range":[106,53],"nice":false},"axis":{"orient":"left","offset":-495,"values":[0,70],"labelBaseline":{"condition":{"test":"datum.value == 0","value":"bottom"},"value":"middle"},"ticks":false,"domain":false,"labelPadding":2,"labelFontSize":10,"title":"Counts","titleFontSize":10,"titlePadding":2}},"y2":{"datum":70}}},
 {"data":{"name":"flow"},"transform":[{"filter":"datum.p == 'TL'"}],"mark":{"type":"line","strokeWidth":0.9},
  "encoding":{"x":{"field":"x","type":"quantitative","scale":{"type":"log","domain":[1,10000],"range":[495,574],"nice":false}},"y":{"field":"y","type":"quantitative","scale":{"domain":[0,70],"range":[106,53],"nice":false}},"color":{"field":"s","type":"nominal","scale":{"domain":["gray","green"],"range":["#3a3a3a","#3cb83c"]},"legend":null}}},
 {"data":{"name":"gate"},"transform":[{"filter":"datum.p == 'TL'"}],"mark":{"type":"rule","color":"#777","strokeWidth":1},
  "encoding":{"x":{"field":"lo","type":"quantitative","scale":{"type":"log","domain":[1,10000],"range":[495,574],"nice":false}},"x2":{"field":"hi"},"y":{"datum":25,"type":"quantitative","scale":{"domain":[0,70],"range":[106,53],"nice":false}}}},
 {"data":{"name":"gate"},"transform":[{"filter":"datum.p == 'TL'"}],"mark":{"type":"tick","orient":"vertical","color":"#777","size":5,"thickness":1},
  "encoding":{"x":{"field":"lo","type":"quantitative","scale":{"type":"log","domain":[1,10000],"range":[495,574],"nice":false}},"y":{"datum":25,"type":"quantitative","scale":{"domain":[0,70],"range":[106,53],"nice":false}}}},
 {"data":{"name":"gate"},"transform":[{"filter":"datum.p == 'TL'"}],"mark":{"type":"tick","orient":"vertical","color":"#777","size":5,"thickness":1},
  "encoding":{"x":{"field":"hi","type":"quantitative","scale":{"type":"log","domain":[1,10000],"range":[495,574],"nice":false}},"y":{"datum":25,"type":"quantitative","scale":{"domain":[0,70],"range":[106,53],"nice":false}}}},
 {"data":{"name":"gate"},"transform":[{"filter":"datum.p == 'TL'"}],"mark":{"type":"text","fontSize":8,"text":"MI"},
  "encoding":{"x":{"datum":400,"type":"quantitative","scale":{"type":"log","domain":[1,10000],"range":[495,574],"nice":false}},"y":{"datum":14,"type":"quantitative","scale":{"domain":[0,70],"range":[106,53],"nice":false}}}},
 {"data":{"values":[{"t":"Control"}]},"mark":{"type":"text","fontSize":11,"baseline":"bottom","dy":-4},
  "encoding":{"x":{"datum":100,"type":"quantitative","scale":{"type":"log","domain":[1,10000],"range":[495,574],"nice":false}},"y":{"datum":70,"type":"quantitative","scale":{"domain":[0,70],"range":[106,53],"nice":false}},"text":{"field":"t"}}},
 {"data":{"values":[{"t":"IFN-α"}]},"mark":{"type":"text","fontSize":11,"angle":270,"baseline":"middle"},
  "encoding":{"x":{"datum":0.0119,"type":"quantitative","scale":{"type":"log","domain":[1,10000],"range":[495,574],"nice":false}},"y":{"datum":47.6,"type":"quantitative","scale":{"domain":[0,70],"range":[106,53],"nice":false}},"text":{"field":"t"}}},
 {"data":{"values":[{"t":"Stimulation"}]},"mark":{"type":"text","fontSize":11,"angle":270,"baseline":"middle"},
  "encoding":{"x":{"datum":0.0119,"type":"quantitative","scale":{"type":"log","domain":[1,10000],"range":[495,574],"nice":false}},"y":{"datum":-25.1,"type":"quantitative","scale":{"domain":[0,70],"range":[106,53],"nice":false}},"text":{"field":"t"}}},
 {"data":{"values":[{"t":"IFN-γ"}]},"mark":{"type":"text","fontSize":11,"angle":270,"baseline":"middle"},
  "encoding":{"x":{"datum":0.0119,"type":"quantitative","scale":{"type":"log","domain":[1,10000],"range":[495,574],"nice":false}},"y":{"datum":-89.8,"type":"quantitative","scale":{"domain":[0,70],"range":[106,53],"nice":false}},"text":{"field":"t"}}}
]},
{"layer":[
 {"data":{"values":[{"p":"TR"}]},"mark":{"type":"rect","fill":"#fff","fillOpacity":0,"stroke":"#555","strokeWidth":0.8},
  "encoding":{"x":{"datum":1,"type":"quantitative","scale":{"type":"log","domain":[1,10000],"range":[600,679],"nice":false},"axis":{"orient":"bottom","offset":-746,"values":[1,10,100,1000,10000],"labelExpr":"'10' + ['⁰','¹','²','³','⁴'][round(log(datum.value)/LN10)]","labelOffset":{"condition":{"test":"datum.value == 10000","value":-1},"value":1},"ticks":false,"domain":false,"labelPadding":2,"labelFontSize":9.5,"labelOverlap":false,"title":"pSTAT1","titleFontSize":10,"titlePadding":2}},"x2":{"datum":10000},
   "y":{"datum":0,"type":"quantitative","scale":{"domain":[0,70],"range":[106,53],"nice":false},"axis":{"orient":"left","offset":-600,"values":[0,70],"labelBaseline":{"condition":{"test":"datum.value == 0","value":"bottom"},"value":"middle"},"ticks":false,"domain":false,"labelPadding":2,"labelFontSize":10,"title":null}},"y2":{"datum":70}}},
 {"data":{"name":"flow"},"transform":[{"filter":"datum.p == 'TR'"}],"mark":{"type":"line","strokeWidth":0.9},
  "encoding":{"x":{"field":"x","type":"quantitative","scale":{"type":"log","domain":[1,10000],"range":[600,679],"nice":false}},"y":{"field":"y","type":"quantitative","scale":{"domain":[0,70],"range":[106,53],"nice":false}},"color":{"field":"s","type":"nominal","scale":{"domain":["gray","green"],"range":["#3a3a3a","#3cb83c"]},"legend":null}}},
 {"data":{"name":"gate"},"transform":[{"filter":"datum.p == 'TR'"}],"mark":{"type":"rule","color":"#777","strokeWidth":1},
  "encoding":{"x":{"field":"lo","type":"quantitative","scale":{"type":"log","domain":[1,10000],"range":[600,679],"nice":false}},"x2":{"field":"hi"},"y":{"datum":23,"type":"quantitative","scale":{"domain":[0,70],"range":[106,53],"nice":false}}}},
 {"data":{"name":"gate"},"transform":[{"filter":"datum.p == 'TR'"}],"mark":{"type":"tick","orient":"vertical","color":"#777","size":5,"thickness":1},
  "encoding":{"x":{"field":"lo","type":"quantitative","scale":{"type":"log","domain":[1,10000],"range":[600,679],"nice":false}},"y":{"datum":23,"type":"quantitative","scale":{"domain":[0,70],"range":[106,53],"nice":false}}}},
 {"data":{"name":"gate"},"transform":[{"filter":"datum.p == 'TR'"}],"mark":{"type":"tick","orient":"vertical","color":"#777","size":5,"thickness":1},
  "encoding":{"x":{"field":"hi","type":"quantitative","scale":{"type":"log","domain":[1,10000],"range":[600,679],"nice":false}},"y":{"datum":23,"type":"quantitative","scale":{"domain":[0,70],"range":[106,53],"nice":false}}}},
 {"data":{"name":"gate"},"transform":[{"filter":"datum.p == 'TR'"}],"mark":{"type":"text","fontSize":8,"text":"MI"},
  "encoding":{"x":{"datum":480,"type":"quantitative","scale":{"type":"log","domain":[1,10000],"range":[600,679],"nice":false}},"y":{"datum":13,"type":"quantitative","scale":{"domain":[0,70],"range":[106,53],"nice":false}}}},
 {"data":{"values":[{"t":"Patient"}]},"mark":{"type":"text","fontSize":11,"baseline":"bottom","dy":-4},
  "encoding":{"x":{"datum":100,"type":"quantitative","scale":{"type":"log","domain":[1,10000],"range":[600,679],"nice":false}},"y":{"datum":70,"type":"quantitative","scale":{"domain":[0,70],"range":[106,53],"nice":false}},"text":{"field":"t"}}}
]},
{"layer":[
 {"data":{"values":[{"p":"BL"}]},"mark":{"type":"rect","fill":"#fff","fillOpacity":0,"stroke":"#555","strokeWidth":0.8},
  "encoding":{"x":{"datum":1,"type":"quantitative","scale":{"type":"log","domain":[1,10000],"range":[495,574],"nice":false},"axis":{"orient":"bottom","offset":-659,"values":[1,10,100,1000,10000],"labelExpr":"'10' + ['⁰','¹','²','³','⁴'][round(log(datum.value)/LN10)]","labelOffset":{"condition":{"test":"datum.value == 10000","value":-1},"value":1},"ticks":false,"domain":false,"labelPadding":2,"labelFontSize":9.5,"labelOverlap":false,"title":"pSTAT1","titleFontSize":10,"titlePadding":2}},"x2":{"datum":10000},
   "y":{"datum":0,"type":"quantitative","scale":{"domain":[0,70],"range":[193,140],"nice":false},"axis":{"orient":"left","offset":-495,"values":[0,70],"labelBaseline":{"condition":{"test":"datum.value == 0","value":"bottom"},"value":"middle"},"ticks":false,"domain":false,"labelPadding":2,"labelFontSize":10,"title":"Counts","titleFontSize":10,"titlePadding":2}},"y2":{"datum":70}}},
 {"data":{"name":"flow"},"transform":[{"filter":"datum.p == 'BL'"}],"mark":{"type":"line","strokeWidth":0.9},
  "encoding":{"x":{"field":"x","type":"quantitative","scale":{"type":"log","domain":[1,10000],"range":[495,574],"nice":false}},"y":{"field":"y","type":"quantitative","scale":{"domain":[0,70],"range":[193,140],"nice":false}},"color":{"field":"s","type":"nominal","scale":{"domain":["gray","green"],"range":["#3a3a3a","#3cb83c"]},"legend":null}}},
 {"data":{"name":"gate"},"transform":[{"filter":"datum.p == 'BL'"}],"mark":{"type":"rule","color":"#777","strokeWidth":1},
  "encoding":{"x":{"field":"lo","type":"quantitative","scale":{"type":"log","domain":[1,10000],"range":[495,574],"nice":false}},"x2":{"field":"hi"},"y":{"datum":24,"type":"quantitative","scale":{"domain":[0,70],"range":[193,140],"nice":false}}}},
 {"data":{"name":"gate"},"transform":[{"filter":"datum.p == 'BL'"}],"mark":{"type":"tick","orient":"vertical","color":"#777","size":5,"thickness":1},
  "encoding":{"x":{"field":"lo","type":"quantitative","scale":{"type":"log","domain":[1,10000],"range":[495,574],"nice":false}},"y":{"datum":24,"type":"quantitative","scale":{"domain":[0,70],"range":[193,140],"nice":false}}}},
 {"data":{"name":"gate"},"transform":[{"filter":"datum.p == 'BL'"}],"mark":{"type":"tick","orient":"vertical","color":"#777","size":5,"thickness":1},
  "encoding":{"x":{"field":"hi","type":"quantitative","scale":{"type":"log","domain":[1,10000],"range":[495,574],"nice":false}},"y":{"datum":24,"type":"quantitative","scale":{"domain":[0,70],"range":[193,140],"nice":false}}}},
 {"data":{"name":"gate"},"transform":[{"filter":"datum.p == 'BL'"}],"mark":{"type":"text","fontSize":8,"text":"MI"},
  "encoding":{"x":{"datum":400,"type":"quantitative","scale":{"type":"log","domain":[1,10000],"range":[495,574],"nice":false}},"y":{"datum":13,"type":"quantitative","scale":{"domain":[0,70],"range":[193,140],"nice":false}}}}
]},
{"layer":[
 {"data":{"values":[{"p":"BR"}]},"mark":{"type":"rect","fill":"#fff","fillOpacity":0,"stroke":"#555","strokeWidth":0.8},
  "encoding":{"x":{"datum":1,"type":"quantitative","scale":{"type":"log","domain":[1,10000],"range":[600,679],"nice":false},"axis":{"orient":"bottom","offset":-659,"values":[1,10,100,1000,10000],"labelExpr":"'10' + ['⁰','¹','²','³','⁴'][round(log(datum.value)/LN10)]","labelOffset":{"condition":{"test":"datum.value == 10000","value":-1},"value":1},"ticks":false,"domain":false,"labelPadding":3,"labelFontSize":9.5,"labelOverlap":false,"title":"pSTAT1","titleFontSize":10,"titlePadding":2}},"x2":{"datum":10000},
   "y":{"datum":0,"type":"quantitative","scale":{"domain":[0,100],"range":[193,140],"nice":false},"axis":{"orient":"left","offset":-600,"values":[0,20,40,60,80,100],"labelBaseline":{"condition":{"test":"datum.value == 0","value":"alphabetic"},"value":"middle"},"labelOffset":{"condition":{"test":"datum.value == 0","value":1.5},"value":0},"ticks":false,"domain":false,"labelPadding":2,"labelFontSize":8.5,"labelOverlap":false,"title":null}},"y2":{"datum":100}}},
 {"data":{"name":"flow"},"transform":[{"filter":"datum.p == 'BR'"}],"mark":{"type":"line","strokeWidth":0.9},
  "encoding":{"x":{"field":"x","type":"quantitative","scale":{"type":"log","domain":[1,10000],"range":[600,679],"nice":false}},"y":{"field":"y","type":"quantitative","scale":{"domain":[0,100],"range":[193,140],"nice":false}},"color":{"field":"s","type":"nominal","scale":{"domain":["gray","green"],"range":["#3a3a3a","#3cb83c"]},"legend":null}}},
 {"data":{"name":"gate"},"transform":[{"filter":"datum.p == 'BR'"}],"mark":{"type":"rule","color":"#777","strokeWidth":1},
  "encoding":{"x":{"field":"lo","type":"quantitative","scale":{"type":"log","domain":[1,10000],"range":[600,679],"nice":false}},"x2":{"field":"hi"},"y":{"datum":35,"type":"quantitative","scale":{"domain":[0,100],"range":[193,140],"nice":false}}}},
 {"data":{"name":"gate"},"transform":[{"filter":"datum.p == 'BR'"}],"mark":{"type":"tick","orient":"vertical","color":"#777","size":5,"thickness":1},
  "encoding":{"x":{"field":"lo","type":"quantitative","scale":{"type":"log","domain":[1,10000],"range":[600,679],"nice":false}},"y":{"datum":35,"type":"quantitative","scale":{"domain":[0,100],"range":[193,140],"nice":false}}}},
 {"data":{"name":"gate"},"transform":[{"filter":"datum.p == 'BR'"}],"mark":{"type":"tick","orient":"vertical","color":"#777","size":5,"thickness":1},
  "encoding":{"x":{"field":"hi","type":"quantitative","scale":{"type":"log","domain":[1,10000],"range":[600,679],"nice":false}},"y":{"datum":35,"type":"quantitative","scale":{"domain":[0,100],"range":[193,140],"nice":false}}}},
 {"data":{"name":"gate"},"transform":[{"filter":"datum.p == 'BR'"}],"mark":{"type":"text","fontSize":8,"text":"MI"},
  "encoding":{"x":{"datum":480,"type":"quantitative","scale":{"type":"log","domain":[1,10000],"range":[600,679],"nice":false}},"y":{"datum":22,"type":"quantitative","scale":{"domain":[0,100],"range":[193,140],"nice":false}}}}
]},
{"layer":[
 {"data":{"name":"bPts"},"transform":[{"filter":"datum.s == 'c'"}],"mark":{"type":"circle","color":"#000","opacity":1,"size":22},
  "encoding":{"x":{"field":"x","type":"quantitative","scale":{"domain":[0.5,13.5],"range":[98,320],"nice":false,"zero":false},"axis":{"orient":"bottom","offset":-295,"values":[1,2,3,4,5,6,7,8,9,10,11,12,13],"labels":false,"tickSize":3,"title":null}},
   "y":{"field":"v","type":"quantitative","scale":{"type":"log","domain":[0.1,100000],"range":[557,392],"nice":false},"axis":{"orient":"left","offset":-98,"values":[0.1,0.2,0.3,0.4,0.5,0.6,0.7,0.8,0.9,1,2,3,4,5,6,7,8,9,10,20,30,40,50,60,70,80,90,100,200,300,400,500,600,700,800,900,1000,2000,3000,4000,5000,6000,7000,8000,9000,10000,20000,30000,40000,50000,60000,70000,80000,90000,100000],"labelExpr":"abs(log(datum.value)/LN10 - round(log(datum.value)/LN10)) < 0.001 ? format(datum.value, ',') : ''","labelOverlap":false,"tickSize":{"condition":{"test":"abs(log(datum.value)/LN10 - round(log(datum.value)/LN10)) < 0.001","value":4},"value":2},"labelPadding":2,"title":"IFN-γ (pg ml⁻¹)","titlePadding":8}}}},
 {"data":{"name":"bPts"},"transform":[{"filter":"datum.s == 'p'"}],"mark":{"type":"point","shape":"circle","filled":false,"color":"#000","strokeWidth":1.1,"size":30,"opacity":1},
  "encoding":{"x":{"field":"x","type":"quantitative","scale":{"domain":[0.5,13.5],"range":[98,320],"nice":false,"zero":false}},"y":{"field":"v","type":"quantitative","scale":{"type":"log","domain":[0.1,100000],"range":[557,392],"nice":false}}}},
 {"data":{"name":"bMean"},"mark":{"type":"tick","orient":"horizontal","color":"#1f1fd0","size":13,"thickness":2.5},
  "encoding":{"x":{"field":"g","type":"quantitative","scale":{"domain":[0.5,13.5],"range":[98,320],"nice":false,"zero":false}},"y":{"field":"m","type":"quantitative","scale":{"type":"log","domain":[0.1,100000],"range":[557,392],"nice":false}}}},
 {"data":{"values":[{"p":"= 0.003"}]},"layer":[
  {"mark":{"type":"rule","color":"#000","strokeWidth":1.5},"encoding":{"x":{"datum":1,"type":"quantitative","scale":{"domain":[0.5,13.5],"range":[98,320],"nice":false,"zero":false}},"x2":{"datum":4},"y":{"datum":24000,"type":"quantitative","scale":{"type":"log","domain":[0.1,100000],"range":[557,392],"nice":false}}}},
  {"mark":{"type":"text","fontStyle":"italic","fontSize":11,"align":"right","baseline":"alphabetic","dy":-3.5,"dx":-16.4},"encoding":{"x":{"datum":2.5,"type":"quantitative","scale":{"domain":[0.5,13.5],"range":[98,320],"nice":false,"zero":false}},"y":{"datum":24000,"type":"quantitative","scale":{"type":"log","domain":[0.1,100000],"range":[557,392],"nice":false}},"text":{"value":"P"}}},
  {"mark":{"type":"text","fontSize":11,"align":"left","baseline":"alphabetic","dy":-3.5,"dx":-13.3},"encoding":{"x":{"datum":2.5,"type":"quantitative","scale":{"domain":[0.5,13.5],"range":[98,320],"nice":false,"zero":false}},"y":{"datum":24000,"type":"quantitative","scale":{"type":"log","domain":[0.1,100000],"range":[557,392],"nice":false}},"text":{"field":"p"}}}
 ]},
 {"data":{"values":[{"p":"= 0.02"}]},"layer":[
  {"mark":{"type":"rule","color":"#000","strokeWidth":1.5},"encoding":{"x":{"datum":2,"type":"quantitative","scale":{"domain":[0.5,13.5],"range":[98,320],"nice":false,"zero":false}},"x2":{"datum":5},"y":{"datum":71700,"type":"quantitative","scale":{"type":"log","domain":[0.1,100000],"range":[557,392],"nice":false}}}},
  {"mark":{"type":"text","fontStyle":"italic","fontSize":11,"align":"right","baseline":"alphabetic","dy":-3.5,"dx":-13.3},"encoding":{"x":{"datum":3.5,"type":"quantitative","scale":{"domain":[0.5,13.5],"range":[98,320],"nice":false,"zero":false}},"y":{"datum":71700,"type":"quantitative","scale":{"type":"log","domain":[0.1,100000],"range":[557,392],"nice":false}},"text":{"value":"P"}}},
  {"mark":{"type":"text","fontSize":11,"align":"left","baseline":"alphabetic","dy":-3.5,"dx":-10.2},"encoding":{"x":{"datum":3.5,"type":"quantitative","scale":{"domain":[0.5,13.5],"range":[98,320],"nice":false,"zero":false}},"y":{"datum":71700,"type":"quantitative","scale":{"type":"log","domain":[0.1,100000],"range":[557,392],"nice":false}},"text":{"field":"p"}}}
 ]},
 {"data":{"values":[{"p":"= 0.005"}]},"layer":[
  {"mark":{"type":"rule","color":"#000","strokeWidth":1.5},"encoding":{"x":{"datum":3,"type":"quantitative","scale":{"domain":[0.5,13.5],"range":[98,320],"nice":false,"zero":false}},"x2":{"datum":6},"y":{"datum":231000,"type":"quantitative","scale":{"type":"log","domain":[0.1,100000],"range":[557,392],"nice":false}}}},
  {"mark":{"type":"text","fontStyle":"italic","fontSize":11,"align":"right","baseline":"alphabetic","dy":-3.5,"dx":-16.4},"encoding":{"x":{"datum":4.5,"type":"quantitative","scale":{"domain":[0.5,13.5],"range":[98,320],"nice":false,"zero":false}},"y":{"datum":231000,"type":"quantitative","scale":{"type":"log","domain":[0.1,100000],"range":[557,392],"nice":false}},"text":{"value":"P"}}},
  {"mark":{"type":"text","fontSize":11,"align":"left","baseline":"alphabetic","dy":-3.5,"dx":-13.3},"encoding":{"x":{"datum":4.5,"type":"quantitative","scale":{"domain":[0.5,13.5],"range":[98,320],"nice":false,"zero":false}},"y":{"datum":231000,"type":"quantitative","scale":{"type":"log","domain":[0.1,100000],"range":[557,392],"nice":false}},"text":{"field":"p"}}}
 ]},
 {"data":{"values":[{"t":"b"}]},"mark":{"type":"text","fontSize":15,"fontWeight":"bold","align":"left","baseline":"alphabetic"},
  "encoding":{"x":{"datum":-4.95,"type":"quantitative","scale":{"domain":[0.5,13.5],"range":[98,320],"nice":false,"zero":false}},"y":{"datum":881000,"type":"quantitative","scale":{"type":"log","domain":[0.1,100000],"range":[557,392],"nice":false}},"text":{"field":"t"}}}
]},
{"data":{"name":"bTab"},"transform":[{"fold":["PHA","LPS","IL12","IFNα"],"as":["row","sgn"]}],
 "mark":{"type":"text","fontSize":11},
 "encoding":{"x":{"field":"g","type":"quantitative","scale":{"domain":[0.5,13.5],"range":[98,320],"nice":false,"zero":false},"axis":null},
  "y":{"field":"row","type":"nominal","scale":{"domain":["PHA","LPS","IL12","IFNα"],"range":[562,611],"paddingInner":0,"paddingOuter":0},"axis":{"orient":"left","offset":-98,"domain":false,"ticks":false,"labelPadding":7,"title":null}},
  "text":{"field":"sgn"}}},
{"layer":[
 {"data":{"name":"cPts"},"transform":[{"filter":"datum.s == 'c'"}],"mark":{"type":"circle","color":"#000","opacity":1,"size":22},
  "encoding":{"x":{"field":"x","type":"quantitative","scale":{"domain":[0.5,4.5],"range":[487,557],"nice":false,"zero":false},"axis":{"orient":"bottom","offset":-295,"values":[1,2,3,4],"labels":false,"tickSize":3,"title":null}},
   "y":{"field":"v","type":"quantitative","scale":{"type":"log","domain":[1,10000],"range":[557,400],"nice":false},"axis":{"orient":"left","offset":-487,"values":[1,2,3,4,5,6,7,8,9,10,20,30,40,50,60,70,80,90,100,200,300,400,500,600,700,800,900,1000,2000,3000,4000,5000,6000,7000,8000,9000,10000],"labelExpr":"abs(log(datum.value)/LN10 - round(log(datum.value)/LN10)) < 0.001 ? format(datum.value, ',') : ''","labelOverlap":false,"tickSize":{"condition":{"test":"abs(log(datum.value)/LN10 - round(log(datum.value)/LN10)) < 0.001","value":4},"value":2},"labelPadding":2,"title":"IL10 (pg ml⁻¹)","titlePadding":5}}}},
 {"data":{"name":"cPts"},"transform":[{"filter":"datum.s == 'p'"}],"mark":{"type":"point","shape":"circle","filled":false,"color":"#000","strokeWidth":1.1,"size":30,"opacity":1},
  "encoding":{"x":{"field":"x","type":"quantitative","scale":{"domain":[0.5,4.5],"range":[487,557],"nice":false,"zero":false}},"y":{"field":"v","type":"quantitative","scale":{"type":"log","domain":[1,10000],"range":[557,400],"nice":false}}}},
 {"data":{"name":"cMean"},"mark":{"type":"tick","orient":"horizontal","color":"#1f1fd0","size":13,"thickness":2.5},
  "encoding":{"x":{"field":"g","type":"quantitative","scale":{"domain":[0.5,4.5],"range":[487,557],"nice":false,"zero":false}},"y":{"field":"m","type":"quantitative","scale":{"type":"log","domain":[1,10000],"range":[557,400],"nice":false}}}},
 {"data":{"values":[{"p":"= 0.04"}]},"layer":[
  {"mark":{"type":"rule","color":"#000","strokeWidth":1.5,"xOffset":-3},"encoding":{"x":{"datum":1,"type":"quantitative","scale":{"domain":[0.5,4.5],"range":[487,557],"nice":false,"zero":false}},"x2":{"datum":3},"y":{"datum":3470,"type":"quantitative","scale":{"type":"log","domain":[1,10000],"range":[557,400],"nice":false}}}},
  {"mark":{"type":"text","fontStyle":"italic","fontSize":11,"align":"right","baseline":"alphabetic","dy":-3.5,"dx":-15.3},"encoding":{"x":{"datum":2,"type":"quantitative","scale":{"domain":[0.5,4.5],"range":[487,557],"nice":false,"zero":false}},"y":{"datum":3470,"type":"quantitative","scale":{"type":"log","domain":[1,10000],"range":[557,400],"nice":false}},"text":{"value":"P"}}},
  {"mark":{"type":"text","fontSize":11,"align":"left","baseline":"alphabetic","dy":-3.5,"dx":-12.2},"encoding":{"x":{"datum":2,"type":"quantitative","scale":{"domain":[0.5,4.5],"range":[487,557],"nice":false,"zero":false}},"y":{"datum":3470,"type":"quantitative","scale":{"type":"log","domain":[1,10000],"range":[557,400],"nice":false}},"text":{"field":"p"}}}
 ]},
 {"data":{"values":[{"p":"= 0.004"}]},"layer":[
  {"mark":{"type":"rule","color":"#000","strokeWidth":1.5,"x2Offset":1},"encoding":{"x":{"datum":2,"type":"quantitative","scale":{"domain":[0.5,4.5],"range":[487,557],"nice":false,"zero":false}},"x2":{"datum":4},"y":{"datum":8900,"type":"quantitative","scale":{"type":"log","domain":[1,10000],"range":[557,400],"nice":false}}}},
  {"mark":{"type":"text","fontStyle":"italic","fontSize":11,"align":"right","baseline":"alphabetic","dy":-3.5,"dx":-16.4},"encoding":{"x":{"datum":3,"type":"quantitative","scale":{"domain":[0.5,4.5],"range":[487,557],"nice":false,"zero":false}},"y":{"datum":8900,"type":"quantitative","scale":{"type":"log","domain":[1,10000],"range":[557,400],"nice":false}},"text":{"value":"P"}}},
  {"mark":{"type":"text","fontSize":11,"align":"left","baseline":"alphabetic","dy":-3.5,"dx":-13.3},"encoding":{"x":{"datum":3,"type":"quantitative","scale":{"domain":[0.5,4.5],"range":[487,557],"nice":false,"zero":false}},"y":{"datum":8900,"type":"quantitative","scale":{"type":"log","domain":[1,10000],"range":[557,400],"nice":false}},"text":{"field":"p"}}}
 ]},
 {"data":{"values":[{"t":"c"}]},"mark":{"type":"text","fontSize":15,"fontWeight":"bold","align":"left","baseline":"alphabetic"},
  "encoding":{"x":{"datum":-2.757,"type":"quantitative","scale":{"domain":[0.5,4.5],"range":[487,557],"nice":false,"zero":false}},"y":{"datum":73400,"type":"quantitative","scale":{"type":"log","domain":[1,10000],"range":[557,400],"nice":false}},"text":{"field":"t"}}}
]},
{"data":{"name":"cTab"},"transform":[{"fold":["PHA","IFNα"],"as":["row","sgn"]}],
 "mark":{"type":"text","fontSize":11},
 "encoding":{"x":{"field":"g","type":"quantitative","scale":{"domain":[0.5,4.5],"range":[487,557],"nice":false,"zero":false},"axis":null},
  "y":{"field":"row","type":"nominal","scale":{"domain":["PHA","IFNα"],"range":[563,587],"paddingInner":0,"paddingOuter":0},"axis":{"orient":"left","offset":-487,"domain":false,"ticks":false,"labelPadding":12,"title":null}},
  "text":{"field":"sgn"}}},
{"layer":[
 {"data":{"name":"dPts"},"transform":[{"filter":"datum.s == 'c'"}],"mark":{"type":"circle","color":"#000","opacity":1,"size":22},
  "encoding":{"x":{"field":"x","type":"quantitative","scale":{"domain":[0.5,4.5],"range":[95.5,164],"nice":false,"zero":false},"axis":{"orient":"bottom","offset":-35,"values":[1,2,3,4],"labels":false,"tickSize":3,"title":null}},
   "y":{"field":"v","type":"quantitative","scale":{"type":"log","domain":[100,100000],"range":[817,663],"nice":false},"axis":{"orient":"left","offset":-95.5,"values":[100,200,300,400,500,600,700,800,900,1000,2000,3000,4000,5000,6000,7000,8000,9000,10000,20000,30000,40000,50000,60000,70000,80000,90000,100000],"labelExpr":"abs(log(datum.value)/LN10 - round(log(datum.value)/LN10)) < 0.001 ? format(datum.value, ',') : ''","labelOverlap":false,"tickSize":{"condition":{"test":"abs(log(datum.value)/LN10 - round(log(datum.value)/LN10)) < 0.001","value":4},"value":2},"labelPadding":2,"title":"TNF alpha (pg ml⁻¹)","titlePadding":10}}}},
 {"data":{"name":"dPts"},"transform":[{"filter":"datum.s == 'p'"}],"mark":{"type":"point","shape":"circle","filled":false,"color":"#000","strokeWidth":1.1,"size":30,"opacity":1},
  "encoding":{"x":{"field":"x","type":"quantitative","scale":{"domain":[0.5,4.5],"range":[95.5,164],"nice":false,"zero":false}},"y":{"field":"v","type":"quantitative","scale":{"type":"log","domain":[100,100000],"range":[817,663],"nice":false}}}},
 {"data":{"name":"dMean"},"mark":{"type":"tick","orient":"horizontal","color":"#1f1fd0","size":13,"thickness":2.5},
  "encoding":{"x":{"field":"g","type":"quantitative","scale":{"domain":[0.5,4.5],"range":[95.5,164],"nice":false,"zero":false}},"y":{"field":"m","type":"quantitative","scale":{"type":"log","domain":[100,100000],"range":[817,663],"nice":false}}}},
 {"data":{"values":[{"p":"= 0.002"}]},"layer":[
  {"mark":{"type":"rule","color":"#000","strokeWidth":1.5,"xOffset":-3},"encoding":{"x":{"datum":1,"type":"quantitative","scale":{"domain":[0.5,4.5],"range":[95.5,164],"nice":false,"zero":false}},"x2":{"datum":3},"y":{"datum":25700,"type":"quantitative","scale":{"type":"log","domain":[100,100000],"range":[817,663],"nice":false}}}},
  {"mark":{"type":"text","fontStyle":"italic","fontSize":11,"align":"right","baseline":"alphabetic","dy":-3.5,"dx":-16.4},"encoding":{"x":{"datum":2,"type":"quantitative","scale":{"domain":[0.5,4.5],"range":[95.5,164],"nice":false,"zero":false}},"y":{"datum":25700,"type":"quantitative","scale":{"type":"log","domain":[100,100000],"range":[817,663],"nice":false}},"text":{"value":"P"}}},
  {"mark":{"type":"text","fontSize":11,"align":"left","baseline":"alphabetic","dy":-3.5,"dx":-13.3},"encoding":{"x":{"datum":2,"type":"quantitative","scale":{"domain":[0.5,4.5],"range":[95.5,164],"nice":false,"zero":false}},"y":{"datum":25700,"type":"quantitative","scale":{"type":"log","domain":[100,100000],"range":[817,663],"nice":false}},"text":{"field":"p"}}}
 ]},
 {"data":{"values":[{"t":"d"}]},"mark":{"type":"text","fontSize":15,"fontWeight":"bold","align":"left","baseline":"alphabetic"},
  "encoding":{"x":{"datum":-4.785,"type":"quantitative","scale":{"domain":[0.5,4.5],"range":[95.5,164],"nice":false,"zero":false}},"y":{"datum":268000,"type":"quantitative","scale":{"type":"log","domain":[100,100000],"range":[817,663],"nice":false}},"text":{"field":"t"}}}
]},
{"data":{"name":"dTab"},"transform":[{"fold":["LPS","IFNγ"],"as":["row","sgn"]}],
 "mark":{"type":"text","fontSize":11},
 "encoding":{"x":{"field":"g","type":"quantitative","scale":{"domain":[0.5,4.5],"range":[95.5,164],"nice":false,"zero":false},"axis":null},
  "y":{"field":"row","type":"nominal","scale":{"domain":["LPS","IFNγ"],"range":[826,851],"paddingInner":0,"paddingOuter":0},"axis":{"orient":"left","offset":-95.5,"domain":false,"ticks":false,"labelPadding":14.5,"title":null}},
  "text":{"field":"sgn"}}},
{"layer":[
 {"data":{"name":"ePts"},"transform":[{"filter":"datum.s == 'c'"}],"mark":{"type":"circle","color":"#000","opacity":1,"size":22},
  "encoding":{"x":{"field":"x","type":"quantitative","scale":{"domain":[0.5,4.5],"range":[322,392],"nice":false,"zero":false},"axis":{"orient":"bottom","offset":-35,"values":[1,2,3,4],"labels":false,"tickSize":3,"title":null}},
   "y":{"field":"v","type":"quantitative","scale":{"type":"log","domain":[100,100000],"range":[817,648],"nice":false},"axis":{"orient":"left","offset":-322,"values":[100,200,300,400,500,600,700,800,900,1000,2000,3000,4000,5000,6000,7000,8000,9000,10000,20000,30000,40000,50000,60000,70000,80000,90000,100000],"labelExpr":"abs(log(datum.value)/LN10 - round(log(datum.value)/LN10)) < 0.001 ? format(datum.value, ',') : ''","labelOverlap":false,"tickSize":{"condition":{"test":"abs(log(datum.value)/LN10 - round(log(datum.value)/LN10)) < 0.001","value":4},"value":2},"labelPadding":2,"title":"IL6 (pg ml⁻¹)","titlePadding":9}}}},
 {"data":{"name":"ePts"},"transform":[{"filter":"datum.s == 'p'"}],"mark":{"type":"point","shape":"circle","filled":false,"color":"#000","strokeWidth":1.1,"size":30,"opacity":1},
  "encoding":{"x":{"field":"x","type":"quantitative","scale":{"domain":[0.5,4.5],"range":[322,392],"nice":false,"zero":false}},"y":{"field":"v","type":"quantitative","scale":{"type":"log","domain":[100,100000],"range":[817,648],"nice":false}}}},
 {"data":{"name":"eMean"},"mark":{"type":"tick","orient":"horizontal","color":"#1f1fd0","size":13,"thickness":2.5},
  "encoding":{"x":{"field":"g","type":"quantitative","scale":{"domain":[0.5,4.5],"range":[322,392],"nice":false,"zero":false}},"y":{"field":"m","type":"quantitative","scale":{"type":"log","domain":[100,100000],"range":[817,648],"nice":false}}}},
 {"data":{"values":[{"p":"= 0.01"}]},"layer":[
  {"mark":{"type":"rule","color":"#000","strokeWidth":1.5,"xOffset":-3},"encoding":{"x":{"datum":1,"type":"quantitative","scale":{"domain":[0.5,4.5],"range":[322,392],"nice":false,"zero":false}},"x2":{"datum":2},"y":{"datum":72000,"type":"quantitative","scale":{"type":"log","domain":[100,100000],"range":[817,648],"nice":false}}}},
  {"mark":{"type":"text","fontStyle":"italic","fontSize":11,"align":"right","baseline":"alphabetic","dy":-3.5,"dx":-13.3},"encoding":{"x":{"datum":1.64,"type":"quantitative","scale":{"domain":[0.5,4.5],"range":[322,392],"nice":false,"zero":false}},"y":{"datum":72000,"type":"quantitative","scale":{"type":"log","domain":[100,100000],"range":[817,648],"nice":false}},"text":{"value":"P"}}},
  {"mark":{"type":"text","fontSize":11,"align":"left","baseline":"alphabetic","dy":-3.5,"dx":-10.2},"encoding":{"x":{"datum":1.64,"type":"quantitative","scale":{"domain":[0.5,4.5],"range":[322,392],"nice":false,"zero":false}},"y":{"datum":72000,"type":"quantitative","scale":{"type":"log","domain":[100,100000],"range":[817,648],"nice":false}},"text":{"field":"p"}}}
 ]},
 {"data":{"values":[{"t":"e"}]},"mark":{"type":"text","fontSize":15,"fontWeight":"bold","align":"left","baseline":"alphabetic"},
  "encoding":{"x":{"datum":-3.443,"type":"quantitative","scale":{"domain":[0.5,4.5],"range":[322,392],"nice":false,"zero":false}},"y":{"datum":133000,"type":"quantitative","scale":{"type":"log","domain":[100,100000],"range":[817,648],"nice":false}},"text":{"field":"t"}}}
]},
{"data":{"name":"eTab"},"transform":[{"fold":["LPS","PHA"],"as":["row","sgn"]}],
 "mark":{"type":"text","fontSize":11},
 "encoding":{"x":{"field":"g","type":"quantitative","scale":{"domain":[0.5,4.5],"range":[322,392],"nice":false,"zero":false},"axis":null},
  "y":{"field":"row","type":"nominal","scale":{"domain":["LPS","PHA"],"range":[826,851],"paddingInner":0,"paddingOuter":0},"axis":{"orient":"left","offset":-322,"domain":false,"ticks":false,"labelPadding":20,"title":null}},
  "text":{"field":"sgn"}}},
{"layer":[
 {"data":{"name":"fPts"},"transform":[{"filter":"datum.s == 'c'"}],"mark":{"type":"circle","color":"#000","opacity":1,"size":22},
  "encoding":{"x":{"field":"x","type":"quantitative","scale":{"domain":[0.5,4.5],"range":[533.5,606.5],"nice":false,"zero":false},"axis":{"orient":"bottom","offset":-35,"values":[1,2,3,4],"labels":false,"tickSize":3,"title":null}},
   "y":{"field":"v","type":"quantitative","scale":{"type":"log","domain":[1,10000],"range":[817,648],"nice":false},"axis":{"orient":"left","offset":-533.5,"values":[1,2,3,4,5,6,7,8,9,10,20,30,40,50,60,70,80,90,100,200,300,400,500,600,700,800,900,1000,2000,3000,4000,5000,6000,7000,8000,9000,10000],"labelExpr":"abs(log(datum.value)/LN10 - round(log(datum.value)/LN10)) < 0.001 ? format(datum.value, ',') : ''","labelOverlap":false,"tickSize":{"condition":{"test":"abs(log(datum.value)/LN10 - round(log(datum.value)/LN10)) < 0.001","value":4},"value":2},"labelPadding":2,"title":"IL12 (pg ml⁻¹)","titlePadding":5}}}},
 {"data":{"name":"fPts"},"transform":[{"filter":"datum.s == 'p'"}],"mark":{"type":"point","shape":"circle","filled":false,"color":"#000","strokeWidth":1.1,"size":30,"opacity":1},
  "encoding":{"x":{"field":"x","type":"quantitative","scale":{"domain":[0.5,4.5],"range":[533.5,606.5],"nice":false,"zero":false}},"y":{"field":"v","type":"quantitative","scale":{"type":"log","domain":[1,10000],"range":[817,648],"nice":false}}}},
 {"data":{"name":"fMean"},"mark":{"type":"tick","orient":"horizontal","color":"#1f1fd0","size":13,"thickness":2.5},
  "encoding":{"x":{"field":"g","type":"quantitative","scale":{"domain":[0.5,4.5],"range":[533.5,606.5],"nice":false,"zero":false}},"y":{"field":"m","type":"quantitative","scale":{"type":"log","domain":[1,10000],"range":[817,648],"nice":false}}}},
 {"data":{"values":[{"t":"f"}]},"mark":{"type":"text","fontSize":15,"fontWeight":"bold","align":"left","baseline":"alphabetic"},
  "encoding":{"x":{"datum":-2.815,"type":"quantitative","scale":{"domain":[0.5,4.5],"range":[533.5,606.5],"nice":false,"zero":false}},"y":{"datum":14650,"type":"quantitative","scale":{"type":"log","domain":[1,10000],"range":[817,648],"nice":false}},"text":{"field":"t"}}}
]},
{"data":{"name":"dTab"},"transform":[{"fold":["LPS","IFNγ"],"as":["row","sgn"]}],
 "mark":{"type":"text","fontSize":11},
 "encoding":{"x":{"field":"g","type":"quantitative","scale":{"domain":[0.5,4.5],"range":[533.5,606.5],"nice":false,"zero":false},"axis":null},
  "y":{"field":"row","type":"nominal","scale":{"domain":["LPS","IFNγ"],"range":[826,851],"paddingInner":0,"paddingOuter":0},"axis":{"orient":"left","offset":-533.5,"domain":false,"ticks":false,"labelPadding":18.5,"title":null}},
  "text":{"field":"sgn"}}}
]
}
